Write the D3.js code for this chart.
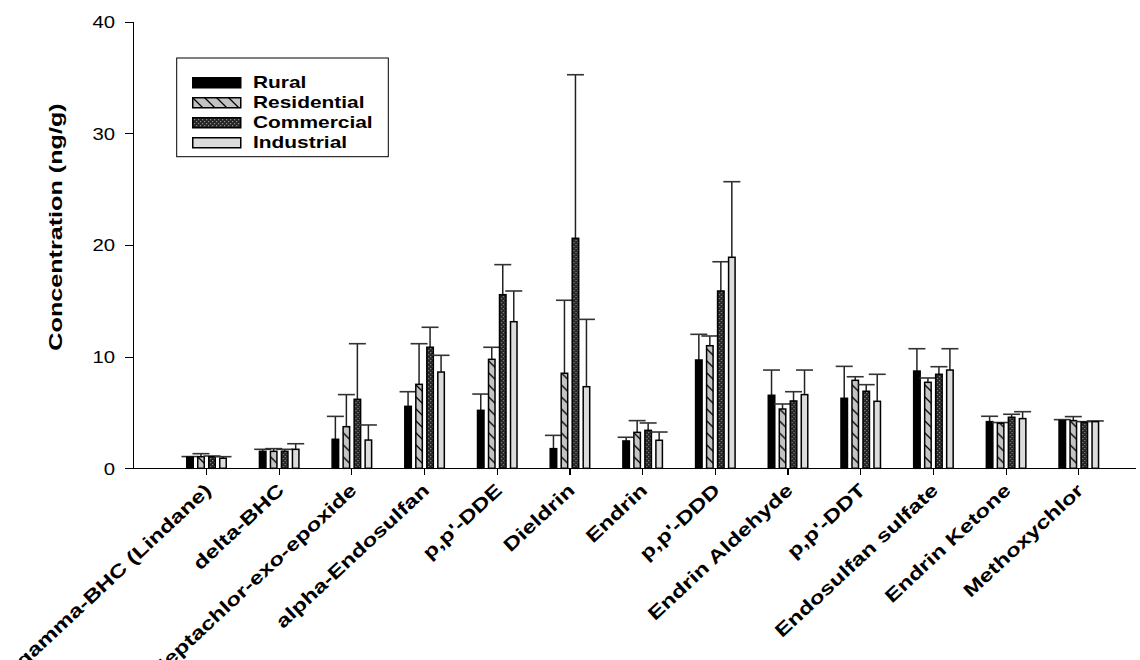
<!DOCTYPE html>
<html>
<head>
<meta charset="utf-8">
<script src="https://cdn.jsdelivr.net/npm/d3@7"></script>
<style>
    body { margin: 0; background: #fff; }
    svg { display: block; font-family: 'Liberation Sans', Arial, sans-serif; }
    .axis path, .axis line { stroke: #000; stroke-width: 1.2; shape-rendering: crispEdges; }
    .axis text { font-size: 16px; fill: #000; }
    .legend-label { font-weight: bold; font-size: 17px; fill: #000; }
    .cat-label, .y-title { font-weight: bold; font-size: 18.5px; fill: #000; }
</style>
</head>
<body>
<svg id="chart" width="1140" height="660"></svg>
<script>
// Compounds on the x axis
const categories = ['gamma-BHC (Lindane)', 'delta-BHC', 'Heptachlor-exo-epoxide', 'alpha-Endosulfan',
    "p,p'-DDE", 'Dieldrin', 'Endrin', "p,p'-DDD", 'Endrin Aldehyde', "p,p'-DDT",
    'Endosulfan sulfate', 'Endrin Ketone', 'Methoxychlor'];

const seriesNames = ['Rural', 'Residential', 'Commercial', 'Industrial'];

// Mean concentrations (ng/g)
const ruralMean       = [1.00, 1.52, 2.60, 5.55, 5.19, 1.76, 2.45, 9.70, 6.54, 6.27, 8.71, 4.18, 4.27];
const residentialMean = [1.04, 1.52, 3.73, 7.52, 9.76, 8.51, 3.22, 10.98, 5.31, 7.88, 7.70, 4.03, 4.27];
const commercialMean  = [1.04, 1.52, 6.18, 10.84, 15.55, 20.60, 3.40, 15.88, 6.03, 6.90, 8.42, 4.57, 4.12];
const industrialMean  = [0.90, 1.70, 2.53, 8.62, 13.13, 7.31, 2.51, 18.90, 6.60, 6.00, 8.80, 4.45, 4.18];

// Upper error bar lengths
const ruralErr       = [0.05, 0.18, 2.05, 1.31, 1.46, 1.19, 0.33, 2.30, 2.26, 2.86, 2.00, 0.48, 0.09];
const residentialErr = [0.27, 0.24, 2.87, 3.64, 1.08, 6.54, 1.05, 0.87, 0.45, 0.32, 0.39, 0.07, 0.36];
const commercialErr  = [0.06, 0.18, 4.98, 1.79, 2.69, 14.65, 0.66, 2.62, 0.83, 0.59, 0.68, 0.27, 0.06];
const industrialErr  = [0.14, 0.50, 1.35, 1.50, 2.75, 6.03, 0.74, 6.77, 2.20, 2.42, 1.91, 0.62, 0.06];

const yTicks = [0, 10, 20, 30, 40];
const yTitle = 'Concentration (ng/g)';

class GroupedBarChart {

    constructor(_config, _data) {
        this.config = {
            parentElement: _config.parentElement,
            left: 133.3, right: 1135, top: 21.7, bottom: 468.3
        };
        this.data = _data;
        this.initVis();
    }

    initVis() {
        let vis = this;
        vis.svg = d3.select(vis.config.parentElement);

        vis._definePatterns();

        // index -> pixel, one empty slot left of the first group like the original
        vis.xScale = d3.scaleLinear()
            .domain([-1, 12.78])
            .range([vis.config.left, vis.config.right]);

        vis.innerScale = d3.scaleBand()
            .domain(seriesNames)
            .range([-20, 21])
            .paddingInner(3 / 11)
            .paddingOuter(0);

        vis.yScale = d3.scaleLinear()
            .domain([0, 40])
            .range([vis.config.bottom, vis.config.top]);

        vis.fills = {
            Rural: '#000',
            Residential: 'url(#hatch)',
            Commercial: 'url(#cross)',
            Industrial: '#dcdcdc'
        };

        vis.renderVis();
    }

    renderVis() {
        let vis = this;
        vis._renderAxes();
        vis._renderBars();
        vis._renderLegend();
    }

    _definePatterns() {
        let defs = this.svg.append('defs');

        let hatch = defs.append('pattern')
            .attr('id', 'hatch')
            .attr('patternUnits', 'userSpaceOnUse')
            .attr('width', 12).attr('height', 12);
        hatch.append('rect').attr('width', 12).attr('height', 12).attr('fill', '#c4c4c4');
        hatch.append('path')
            .attr('d', 'M-3,-3 L15,15 M-9,3 L3,15 M9,-3 L15,3')
            .attr('stroke', '#000').attr('stroke-width', 1.3);

        let cross = defs.append('pattern')
            .attr('id', 'cross')
            .attr('patternUnits', 'userSpaceOnUse')
            .attr('width', 4).attr('height', 4);
        cross.append('rect').attr('width', 4).attr('height', 4).attr('fill', '#242424');
        cross.append('rect').attr('x', 0).attr('y', 0).attr('width', 1.2).attr('height', 1.2).attr('fill', '#8c8c8c');
        cross.append('rect').attr('x', 2).attr('y', 2).attr('width', 1.2).attr('height', 1.2).attr('fill', '#8c8c8c');
    }

    _renderAxes() {
        let vis = this;

        let yAxis = vis.svg.append('g')
            .attr('class', 'axis y-axis')
            .attr('transform', `translate(${vis.config.left},0)`)
            .call(d3.axisLeft(vis.yScale).tickValues(yTicks).tickSize(8).tickSizeOuter(0));

        // stretched digits like the source
        yAxis.selectAll('text')
            .attr('x', null)
            .attr('dy', '0.36em')
            .attr('transform', 'translate(-18.3,0) scale(1.27,1)');

        vis.svg.append('g')
            .attr('class', 'axis x-axis')
            .attr('transform', `translate(0,${vis.config.bottom})`)
            .call(d3.axisBottom(vis.xScale).tickValues(d3.range(categories.length))
                .tickSize(7).tickSizeOuter(0).tickFormat(''));

        vis.svg.append('g')
            .selectAll('.cat-label')
            .data(categories)
            .join('text')
                .attr('class', 'cat-label')
                .attr('text-anchor', 'end')
                .attr('dy', '0.35em')
                .attr('transform', (d, i) =>
                    `translate(${vis.xScale(i) + 2},487) rotate(-43) scale(1.3,1)`)
                .text(d => d);

        vis.svg.append('text')
            .attr('class', 'y-title')
            .attr('text-anchor', 'middle')
            .attr('transform', 'translate(62,227) rotate(-90) scale(1.36,1)')
            .text(yTitle);
    }

    _renderBars() {
        let vis = this;

        let groups = vis.svg.append('g')
            .selectAll('.series')
            .data(vis.data)
            .join('g')
                .attr('class', 'series');

        let cells = groups.selectAll('.cell')
            .data(s => s.means.map((m, i) => ({ name: s.name, i: i, mean: m, err: s.errs[i] })))
            .join('g')
                .attr('class', 'cell')
                .attr('transform', d => `translate(${vis.xScale(d.i) + vis.innerScale(d.name)},0)`);

        const bw = vis.innerScale.bandwidth();

        // error bars first so the bar outline sits over the stem
        cells.append('line')
            .attr('x1', bw / 2).attr('x2', bw / 2)
            .attr('y1', d => vis.yScale(d.mean))
            .attr('y2', d => vis.yScale(d.mean + d.err))
            .attr('stroke', '#222').attr('stroke-width', 1.5);

        cells.append('line')
            .attr('x1', bw / 2 - 8.5).attr('x2', bw / 2 + 8.5)
            .attr('y1', d => vis.yScale(d.mean + d.err))
            .attr('y2', d => vis.yScale(d.mean + d.err))
            .attr('stroke', '#333').attr('stroke-width', 1.6);

        cells.append('rect')
            .attr('x', 0.75)
            .attr('width', bw - 1.5)
            .attr('y', d => vis.yScale(d.mean))
            .attr('height', d => vis.yScale(0) - vis.yScale(d.mean))
            .attr('fill', d => vis.fills[d.name])
            .attr('stroke', '#000')
            .attr('stroke-width', 1.5);
    }

    _renderLegend() {
        let vis = this;

        let legend = vis.svg.append('g').attr('class', 'legend');

        legend.append('rect')
            .attr('x', 176.7).attr('y', 58)
            .attr('width', 211.6).attr('height', 98.7)
            .attr('fill', '#fff')
            .attr('stroke', '#000').attr('stroke-width', 1);

        let rows = legend.selectAll('.legend-row')
            .data(seriesNames)
            .join('g')
                .attr('class', 'legend-row')
                .attr('transform', (d, i) => `translate(192,${77 + i * 20})`);

        rows.append('rect')
            .attr('x', 0.75).attr('y', 0.75)
            .attr('width', 48).attr('height', 10)
            .attr('fill', d => vis.fills[d])
            .attr('stroke', '#000').attr('stroke-width', 1.5);

        rows.append('text')
            .attr('class', 'legend-label')
            .attr('transform', 'translate(61,10.8) scale(1.23,1)')
            .text(d => d);
    }
}

const chartData = [
    { name: 'Rural', means: ruralMean, errs: ruralErr },
    { name: 'Residential', means: residentialMean, errs: residentialErr },
    { name: 'Commercial', means: commercialMean, errs: commercialErr },
    { name: 'Industrial', means: industrialMean, errs: industrialErr }
];

new GroupedBarChart({ parentElement: '#chart' }, chartData);
</script>
</body>
</html>
